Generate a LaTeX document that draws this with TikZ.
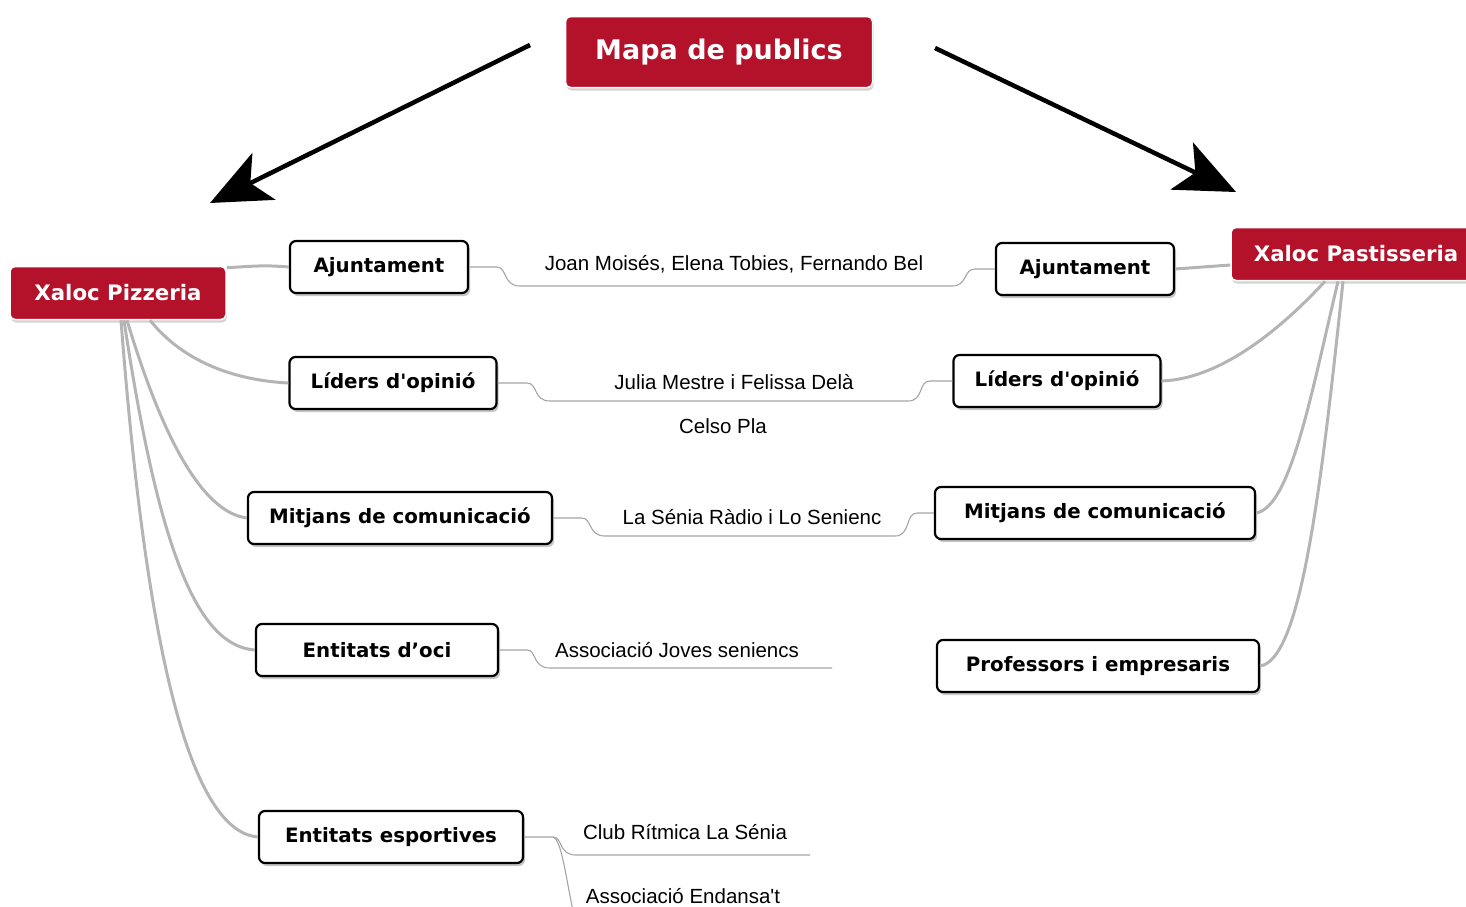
\documentclass[tikz,border=0pt]{standalone}
\usepackage{fontspec}
\setmainfont{DejaVu Sans}
\newfontfamily\leaffont{Liberation Sans}
\usetikzlibrary{arrows.meta, shadows}
\definecolor{xred}{RGB}{180,17,42}
\definecolor{trunk}{RGB}{180,180,180}
\definecolor{twig}{RGB}{165,165,165}

\begin{document}
\begin{tikzpicture}[
    x=1pt, y=-1pt,
    hub/.style={rectangle, draw=white, line width=1.5pt, fill=xred, rounded corners=5pt, text=white, font=\fontsize{21.3}{25}\selectfont\bfseries, inner xsep=20pt, minimum height=53pt, drop shadow={shadow xshift=1pt, shadow yshift=-3pt, opacity=0.35}},
    group/.style={rectangle, draw, line width=2.2pt, fill=white, rounded corners=6pt, font=\fontsize{19.8}{24}\selectfont\bfseries, inner xsep=20pt, minimum height=52pt, drop shadow={shadow xshift=2pt, shadow yshift=-3pt, opacity=0.45}},
    member/.style={font=\leaffont\fontsize{20.5}{24}\selectfont, inner sep=0pt},
    link/.style={draw=trunk, line width=3pt},
    twigline/.style={draw=twig, line width=1.1pt},
    bigarrow/.style={-{Stealth[length=60pt, width=52pt, inset=15pt]}, line width=4.5pt}
]
\useasboundingbox (0,0) rectangle (1466,906);

\node[hub, font=\fontsize{27}{31}\selectfont\bfseries, minimum height=71pt, minimum width=307pt] (mapa) at (719,52) {Mapa de publics};
\node[hub, minimum width=216pt] (pizz) at (118,293) {Xaloc Pizzeria};
\node[hub, minimum width=250pt] (past) at (1356,254) {Xaloc Pastisseria};

\node[group, minimum width=178pt] (ajL) at (379,267) {Ajuntament};
\node[group, minimum width=207pt] (lidL) at (393,383) {Líders d\textquotesingle opinió};
\node[group, minimum width=304pt] (mitL) at (400,518) {Mitjans de comunicació};
\node[group, minimum width=242pt] (oci) at (377,650) {Entitats d’oci};
\node[group, minimum width=264pt] (esp) at (391,837) {Entitats esportives};

\node[group, minimum width=178pt] (ajR) at (1085,269) {Ajuntament};
\node[group, minimum width=207pt] (lidR) at (1057,381) {Líders d\textquotesingle opinió};
\node[group, minimum width=320pt] (mitR) at (1095,513) {Mitjans de comunicació};
\node[group, minimum width=322pt] (prof) at (1098,666) {Professors i empresaris};

\node[member] (joan) at (734,264) {Joan Moisés, Elena Tobies, Fernando Bel};
\node[member] (julia) at (734,382) {Julia Mestre i Felissa Delà};
\node[member] (celso) at (723,426) {Celso Pla};
\node[member] (radio) at (752,517) {La Sénia Ràdio i Lo Senienc};
\node[member] (joves) at (677,650) {Associació Joves seniencs};
\node[member] (club) at (685,832) {Club Rítmica La Sénia};
\node[member] (endan) at (683,896) {Associació Endansa\textquotesingle t};

\coordinate (fromL) at (530,45);
\coordinate (toL) at (210,203);
\coordinate (fromR) at (935,48);
\coordinate (toR) at (1236,192);
\coordinate (ociend) at (832,668);
\coordinate (clubend) at (810,855);
\coordinate (endend) at (800,915);

\draw[bigarrow] (fromL) -- (toL);
\draw[bigarrow] (fromR) -- (toR);

\draw[link] ([yshift=-2pt]pizz.north east) .. controls (255,266) and (265,265) .. (ajL.west);
\draw[link] ([xshift=32pt]pizz.south) .. controls (190,370) and (250,381) .. (lidL.west);
\draw[link] ([xshift=9pt]pizz.south) .. controls (160,430) and (200,512) .. (mitL.west);
\draw[link] ([xshift=6pt]pizz.south) .. controls (160,560) and (200,646) .. (oci.west);
\draw[link] ([xshift=3pt]pizz.south) .. controls (150,700) and (200,832) .. (esp.west);

\draw[link] ([yshift=-11pt]past.west) -- (ajR.east);
\draw[link] ([xshift=-31pt]past.south) .. controls (1280,330) and (1220,379) .. (lidR.east);
\draw[link] ([xshift=-18pt]past.south) .. controls (1310,400) and (1290,507) .. (mitR.east);
\draw[link] ([xshift=-13pt]past.south) .. controls (1320,500) and (1300,660) .. (prof.east);

\draw[twigline] (ajL.east) -- (497,267) .. controls (507,267) and (503,286) .. (520,286) -- (952,286) .. controls (968,286) and (963,269) .. (975,269) -- (ajR.west);
\draw[twigline] (lidL.east) -- (527,383) .. controls (538,383) and (533,401) .. (550,401) -- (908,401) .. controls (924,401) and (918,381) .. (930,381) -- (lidR.west);
\draw[twigline] (mitL.east) -- (582,518) .. controls (592,518) and (588,536) .. (605,536) -- (895,536) .. controls (911,536) and (905,513) .. (917,513) -- (mitR.west);
\draw[twigline] (oci.east) -- (527,650) .. controls (537,650) and (532,668) .. (550,668) -- (ociend);
\draw[twigline] (esp.east) -- (553,837) .. controls (563,837) and (558,855) .. (576,855) -- (clubend);
\draw[twigline] (553,837) .. controls (562,840) and (566,880) .. (574,915) -- (endend);

\end{tikzpicture}
\end{document}
